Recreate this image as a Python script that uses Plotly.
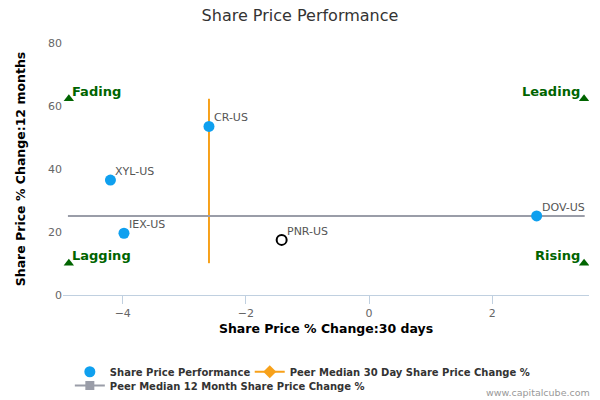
import plotly.graph_objects as go

# share price change, 30 days (x) and 12 months (y)
tickers = ["CR-US", "XYL-US", "IEX-US", "DOV-US"]
chg_30d = [-2.60, -4.20, -3.98, 2.72]
chg_12m = [53.5, 36.5, 19.6, 25.1]

# the company itself
own_ticker = ["PNR-US"]
own_30d = [-1.42]
own_12m = [17.5]

# peer medians
median_30d = -2.60
median_12m = 25.1
median_30d_span = [10.1, 62.3]
median_12m_span = [-4.89, 3.50]

# quadrant markers
quad_names = ["Fading", "Leading", "Lagging", "Rising"]
quad_x = [-4.875, 3.49, -4.875, 3.49]
quad_y = [62.3, 62.3, 10.1, 10.1]

blue = "#0fa0ef"
orange = "#f7a11a"
grey = "#9a9da8"
green = "#006400"

fig = go.Figure()

# legend entries only (so the legend can show line + symbol)
fig.add_trace(go.Scatter(
    x=[None], y=[None], mode="markers", name="Share Price Performance",
    marker=dict(color=blue, size=11), legend="legend",
))
fig.add_trace(go.Scatter(
    x=[None], y=[None], mode="lines+markers",
    name="Peer Median 30 Day Share Price Change %",
    line=dict(color=orange, width=2),
    marker=dict(symbol="diamond", size=10, color=orange), legend="legend2",
))
fig.add_trace(go.Scatter(
    x=[None], y=[None], mode="lines+markers",
    name="Peer Median 12 Month Share Price Change %",
    line=dict(color=grey, width=2),
    marker=dict(symbol="square", size=9, color=grey), legend="legend3",
))

fig.add_trace(go.Scatter(
    x=[median_30d, median_30d], y=median_30d_span, mode="lines",
    line=dict(color=orange, width=2), showlegend=False, hoverinfo="skip",
))
fig.add_trace(go.Scatter(
    x=median_12m_span, y=[median_12m, median_12m], mode="lines",
    line=dict(color=grey, width=2), showlegend=False, hoverinfo="skip",
))
fig.add_trace(go.Scatter(
    x=chg_30d, y=chg_12m, mode="markers", showlegend=False,
    marker=dict(color=blue, size=11),
))
fig.add_trace(go.Scatter(
    x=own_30d, y=own_12m, mode="markers", showlegend=False,
    marker=dict(color="white", size=10, line=dict(color="black", width=2)),
))
fig.add_trace(go.Scatter(
    x=quad_x, y=quad_y, mode="markers", showlegend=False,
    marker=dict(symbol="triangle-up", size=9, color=green),
    hoverinfo="skip",
))

for name, px, py in zip(tickers + own_ticker, chg_30d + own_30d, chg_12m + own_12m):
    fig.add_annotation(
        x=px, y=py, text=name, showarrow=False,
        xanchor="left", yanchor="bottom", xshift=3, yshift=0,
        font=dict(size=11, color="#555555"),
    )

for name, qx, qy in zip(quad_names, quad_x, quad_y):
    left = qx < 0
    fig.add_annotation(
        x=qx, y=qy, text="<b>" + name + "</b>", showarrow=False,
        xanchor="left" if left else "right", yanchor="bottom",
        xshift=1 if left else -2, yshift=-2,
        font=dict(size=13, color=green),
    )

fig.add_annotation(
    x=1.006, y=-0.385, xref="paper", yref="paper",
    xanchor="right", yanchor="middle",
    text="www.capitalcube.com", showarrow=False,
    font=dict(size=9.5, color="#999999"),
)

leg = dict(orientation="h", yanchor="top", bgcolor="rgba(0,0,0,0)",
           font=dict(size=10, color="#333333", weight="bold"), itemwidth=30)

fig.update_layout(
    width=600, height=400,
    margin=dict(l=63, r=11, t=43, b=105, autoexpand=False),
    paper_bgcolor="white", plot_bgcolor="white",
    font=dict(family="DejaVu Sans", color="#333333"),
    title=dict(text="Share Price Performance", x=0.5, y=0.962,
               xanchor="center", yanchor="middle",
               font=dict(size=16, color="#333333")),
    showlegend=True,
    legend=dict(leg, x=0.013, y=-0.247),
    legend2=dict(leg, x=0.355, y=-0.247),
    legend3=dict(leg, x=0.013, y=-0.302),
)
fig.update_xaxes(
    range=[-4.97, 3.57], dtick=2, showgrid=False, zeroline=False,
    showline=True, linecolor="#c0d0e0", linewidth=1,
    ticks="outside", tickcolor="#c0d0e0", ticklen=8,
    tickfont=dict(size=11, color="#666666"),
    title=dict(text="<b>Share Price % Change:30 days</b>",
               font=dict(size=12.5, color="#000000"), standoff=5),
)
fig.update_yaxes(
    range=[0, 80], dtick=20, showgrid=False, zeroline=False,
    showline=False, tickfont=dict(size=11, color="#666666"),
    title=dict(text="<b>Share Price % Change:12 months</b>",
               font=dict(size=12.5, color="#000000"), standoff=19),
)

fig.write_html("out.html", config={"displayModeBar": False},
               post_script="document.body.style.margin='0';")
